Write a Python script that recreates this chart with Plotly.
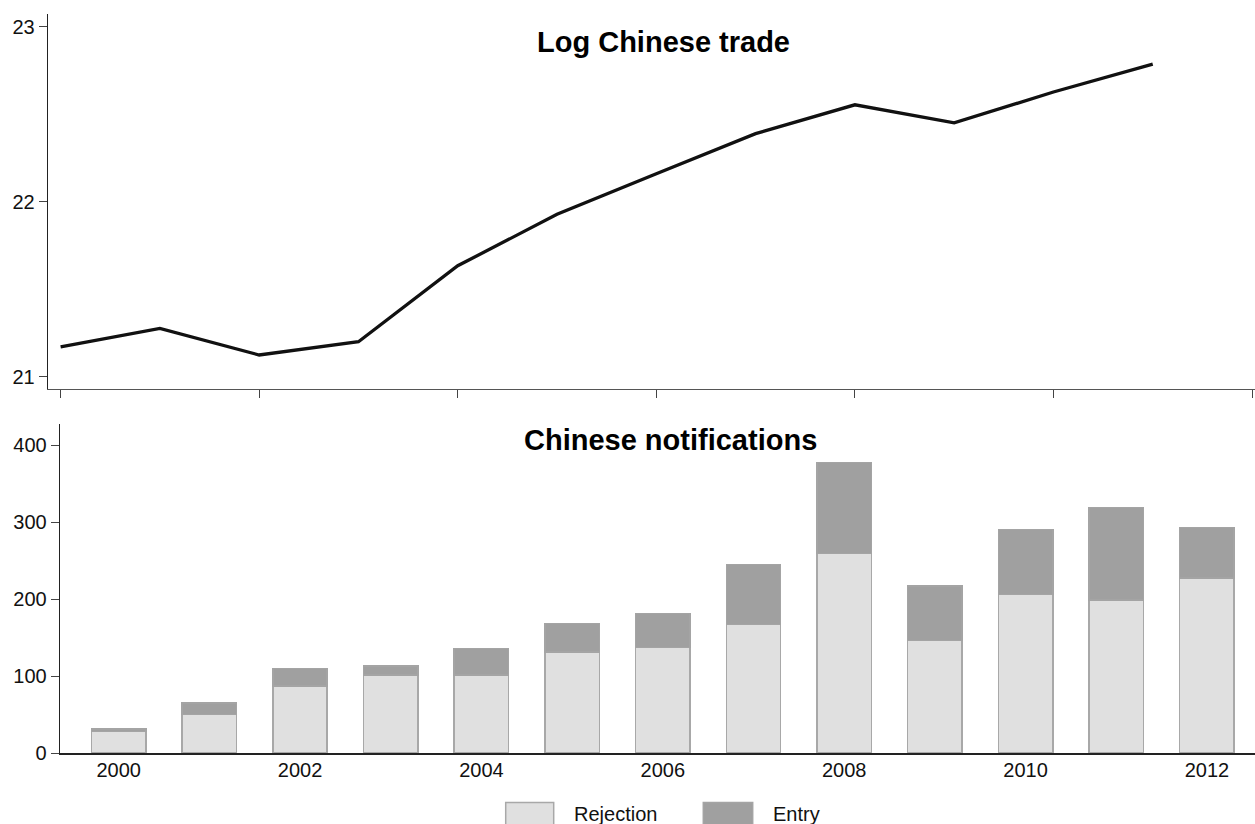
import plotly.graph_objects as go

years_trade = [2000, 2001, 2002, 2003, 2004, 2005, 2006, 2007, 2008, 2009, 2010, 2011]
log_trade = [21.171, 21.276, 21.124, 21.200, 21.634, 21.928, 22.160, 22.389, 22.554, 22.451, 22.627, 22.787]

years_notif = [2000, 2001, 2002, 2003, 2004, 2005, 2006, 2007, 2008, 2009, 2010, 2011, 2012]
rejection = [28, 50, 87, 101, 101, 131, 137, 167, 259, 146, 206, 199, 227]
entry = [3, 15, 23, 12, 35, 37, 44, 78, 118, 71, 84, 120, 66]

top_title = "Log Chinese trade"
bottom_title = "Chinese notifications"
legend_labels = ["Rejection", "Entry"]

W, H = 1255, 824
FONT = "Liberation Sans, Arial, sans-serif"
REJ_FILL, REJ_LINE = "#e0e0e0", "#a8a8a8"
ENT_FILL, ENT_LINE = "#a0a0a0", "#a4a4a4"

fig = go.Figure()
fig.add_trace(go.Scatter(x=years_trade, y=log_trade, mode="lines",
                         line=dict(color="#111111", width=3.3),
                         xaxis="x", yaxis="y", showlegend=False))
fig.add_trace(go.Bar(x=years_notif, y=rejection, name=legend_labels[0], width=0.6,
                     marker=dict(color=REJ_FILL, line=dict(color=REJ_LINE, width=1.5)),
                     xaxis="x2", yaxis="y2", showlegend=False))
fig.add_trace(go.Bar(x=years_notif, y=entry, name=legend_labels[1], width=0.6,
                     marker=dict(color=ENT_FILL, line=dict(color=ENT_LINE, width=1.5)),
                     xaxis="x2", yaxis="y2", showlegend=False))

def py(p):
    return (H - p) / H

def px(p):
    return p / W

tickfont = dict(family=FONT, size=20, color="#111111")

fig.update_layout(
    width=W, height=H, margin=dict(l=0, r=0, t=0, b=0, autoexpand=False),
    paper_bgcolor="white", plot_bgcolor="white",
    barmode="stack", showlegend=False,
    xaxis=dict(domain=[px(47.7), 1], range=[1999.87, 2012.03], anchor="y",
               automargin=False,
               showline=True, linecolor="#555555", linewidth=1,
               ticks="outside", ticklen=8, tickcolor="#444444",
               tickvals=[2000, 2002, 2004, 2006, 2008, 2010, 2012],
               showticklabels=False, showgrid=False, zeroline=False),
    yaxis=dict(domain=[py(389.3), py(14)], range=[20.928, 23.073], anchor="x",
               automargin=False,
               showline=True, linecolor="#222222", linewidth=1,
               ticks="outside", ticklen=8, tickcolor="#444444",
               tickvals=[21, 22, 23], tickfont=tickfont,
               showgrid=False, zeroline=False),
    xaxis2=dict(domain=[px(59.7), 1], range=[1999.35, 2012.53], anchor="y2",
                automargin=False,
                showline=True, linecolor="#222222", linewidth=1.5,
                ticks="", tickvals=[2000, 2002, 2004, 2006, 2008, 2010, 2012],
                ticklabelstandoff=-2, tickfont=tickfont,
                showgrid=False, zeroline=False),
    yaxis2=dict(domain=[py(753), py(424)], range=[0, 427.3], anchor="x2",
                automargin=False,
                showline=True, linecolor="#222222", linewidth=1,
                ticks="outside", ticklen=8, tickcolor="#444444",
                tickvals=[0, 100, 200, 300, 400], tickfont=tickfont,
                showgrid=False, zeroline=False),
)

fig.add_annotation(x=px(664), y=py(42), xref="paper", yref="paper",
                   text="<b>" + top_title + "</b>", showarrow=False,
                   font=dict(family=FONT, size=29, color="#000000"),
                   xanchor="center", yanchor="middle")
fig.add_annotation(x=px(670), y=py(440), xref="paper", yref="paper",
                   text="<b>" + bottom_title + "</b>", showarrow=False,
                   font=dict(family=FONT, size=29, color="#000000"),
                   xanchor="center", yanchor="middle")

# legend
legend_items = [(505.7, 553.7, 572, REJ_FILL, REJ_LINE, legend_labels[0]),
                (703.3, 752.7, 770.7, ENT_FILL, ENT_LINE, legend_labels[1])]
for x0, x1, tx, fill, line, label in legend_items:
    fig.add_shape(type="rect", xref="paper", yref="paper",
                  x0=px(x0), x1=px(x1), y0=py(828), y1=py(802.5),
                  fillcolor=fill, line=dict(color=line, width=1.5))
    fig.add_annotation(x=px(tx), y=py(814), xref="paper", yref="paper",
                       text=label, showarrow=False,
                       font=dict(family=FONT, size=20, color="#111111"),
                       xanchor="left", yanchor="middle")

fig.write_html("out.html")
